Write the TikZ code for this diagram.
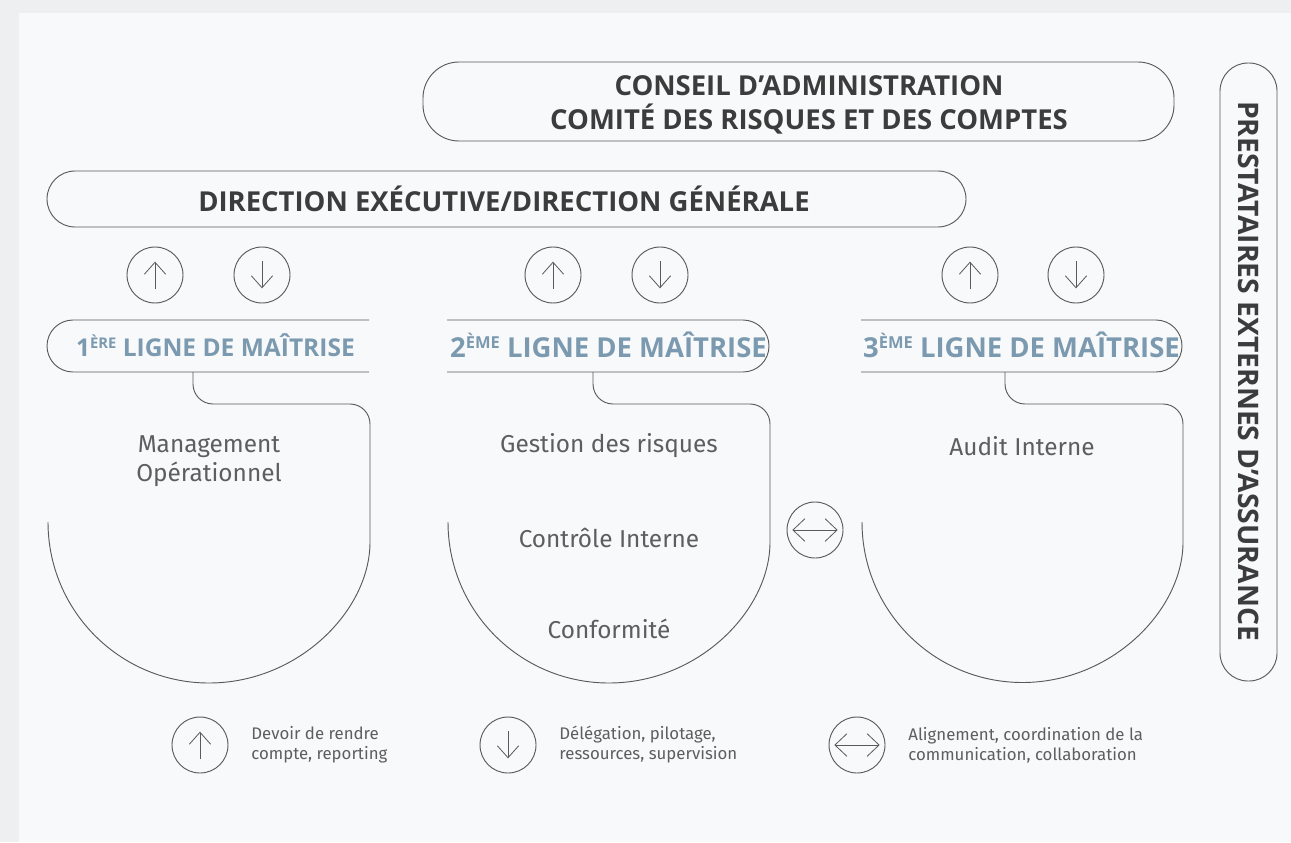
\documentclass[tikz,border=0pt]{standalone}
\usepackage{fontspec}
\setmainfont{Open Sans}
\newfontfamily\lightfont{Fira Sans}
\usetikzlibrary{arrows.meta, positioning}
\definecolor{pagegray}{HTML}{EEEFF1}
\definecolor{panelwhite}{HTML}{F8F9FB}
\definecolor{linegray}{HTML}{5A5A5A}
\definecolor{darktext}{HTML}{3C3C3C}
\definecolor{bluetext}{HTML}{7B9AAF}
\definecolor{softtext}{HTML}{5E5E5E}
\tikzstyle{pill} = [rectangle, draw=linegray, line width=0.7pt, fill=panelwhite]
\tikzstyle{ring} = [circle, draw=linegray, line width=0.7pt, minimum size=42pt, inner sep=0pt]
\tikzstyle{outline} = [draw=linegray, line width=0.7pt]
\tikzstyle{arr} = [draw=linegray, line width=0.6pt, -{Straight Barb[length=9pt, width=16pt]}]
\tikzstyle{both} = [draw=linegray, line width=0.6pt, {Straight Barb[length=9pt, width=17pt]}-{Straight Barb[length=9pt, width=17pt]}]
\tikzstyle{headtext} = [text=darktext, font=\fontsize{20.6pt}{25pt}\selectfont\bfseries, align=center]
\tikzstyle{linetext} = [text=bluetext, font=\fontsize{20.6pt}{22pt}\selectfont\bfseries, inner sep=0pt]
\tikzstyle{bodytext} = [text=softtext, font=\lightfont\fontsize{18.3pt}{22pt}\selectfont, align=center, inner sep=0pt]
\tikzstyle{legtext} = [text=softtext, font=\lightfont\fontsize{12.6pt}{15pt}\selectfont, align=left, inner sep=0pt]
\newcommand{\exposant}[1]{\raisebox{0.33em}{\fontsize{0.6em}{1em}\selectfont #1}}
\newcommand{\flecheup}[1]{\draw[arr] ([yshift=-10.5pt]#1.center) -- ([yshift=10pt]#1.center);}
\newcommand{\flechedown}[1]{\draw[arr] ([yshift=10.5pt]#1.center) -- ([yshift=-10pt]#1.center);}
\newcommand{\flechedeux}[1]{\draw[both] ([xshift=-17pt]#1.center) -- ([xshift=17pt]#1.center);}

\begin{document}
\begin{tikzpicture}[x=0.75pt, y=-0.75pt]
	% background
	\useasboundingbox (0,0) rectangle (1291,842);
	\fill[pagegray] (0,0) rectangle (1291,842);
	\fill[panelwhite] (19,13) rectangle (1291,842);

	% boards
	\node (conseil) [pill, rounded corners=27pt, minimum width=563.25pt, minimum height=59.25pt] at (798.5,101.5) {};
	\node (conseil-text) [headtext] at (809,105) {CONSEIL D’ADMINISTRATION\\COMITÉ DES RISQUES ET DES COMPTES};
	\node (direction) [pill, rounded corners=21pt, minimum width=689.25pt, minimum height=42pt] at (506.5,199) {};
	\node (direction-text) [headtext] at (504,199) {DIRECTION EXÉCUTIVE/DIRECTION GÉNÉRALE};
	\node (prestataires) [pill, rounded corners=21pt, minimum width=42.75pt, minimum height=463.5pt] at (1248.5,372) {};
	\node (prestataires-text) [headtext, rotate=-90, font=\fontsize{21.2pt}{22pt}\selectfont\bfseries] at (1248.5,371) {PRESTATAIRES EXTERNES D’ASSURANCE};

	% arrows under the direction
	\node (up-1) [ring] at (155,275) {};
	\node (down-1) [ring] at (262,275) {};
	\node (up-2) [ring] at (553,275) {};
	\node (down-2) [ring] at (660,275) {};
	\node (up-3) [ring] at (970,275) {};
	\node (down-3) [ring] at (1076,275) {};
	\flecheup{up-1} \flechedown{down-1}
	\flecheup{up-2} \flechedown{down-2}
	\flecheup{up-3} \flechedown{down-3}

	% lines of mastery
	\draw[outline, rounded corners=19.5pt] (369,320) -- (47,320) -- (47,372) -- (369,372);
	\draw[outline, rounded corners=19.5pt] (447,320) -- (769,320) -- (769,372) -- (447,372);
	\draw[outline, rounded corners=19.5pt] (861,320) -- (1182,320) -- (1182,372) -- (861,372);
	\node (line-1) [linetext, font=\fontsize{18.4pt}{22pt}\selectfont\bfseries] at (215.5,345) {1\exposant{ÈRE} LIGNE DE MAÎTRISE};
	\node (line-2) [linetext] at (608.5,345) {2\exposant{ÈME} LIGNE DE MAÎTRISE};
	\node (line-3) [linetext] at (1021.5,345) {3\exposant{ÈME} LIGNE DE MAÎTRISE};

	\draw[outline, rounded corners=15pt] (193,372) -- (193,404) -- (370,404) -- (370,522) [sharp corners] arc (0:180:161);
	\draw[outline, rounded corners=15pt] (593,372) -- (593,404) -- (770,404) -- (770,522) [sharp corners] arc (0:180:161);
	\draw[outline, rounded corners=15pt] (1005,372) -- (1005,404) -- (1183,404) -- (1183,522) [sharp corners] arc (0:180:160.5);

	\node (management) [bodytext] at (209,461) {Management\\Opérationnel};
	\node (risques) [bodytext] at (609,446) {Gestion des risques};
	\node (controle) [bodytext] at (609,538) {Contrôle Interne};
	\node (conformite) [bodytext] at (609,629) {Conformité};
	\node (audit) [bodytext] at (1022,446) {Audit Interne};

	\node (align) [ring] at (815,530) {};
	\flechedeux{align}

	% legend
	\node (leg-up) [ring] at (200,745) {};
	\node (leg-down) [ring] at (508,745) {};
	\node (leg-both) [ring] at (857,745) {};
	\flecheup{leg-up} \flechedown{leg-down} \flechedeux{leg-both}
	\node (leg-up-text) [legtext, right=17pt of leg-up] {Devoir de rendre\\compte, reporting};
	\node (leg-down-text) [legtext, right=17pt of leg-down] {Délégation, pilotage,\\ressources, supervision};
	\node (leg-both-text) [legtext, right=17pt of leg-both] {Alignement, coordination de la\\communication, collaboration};
\end{tikzpicture}
\end{document}
